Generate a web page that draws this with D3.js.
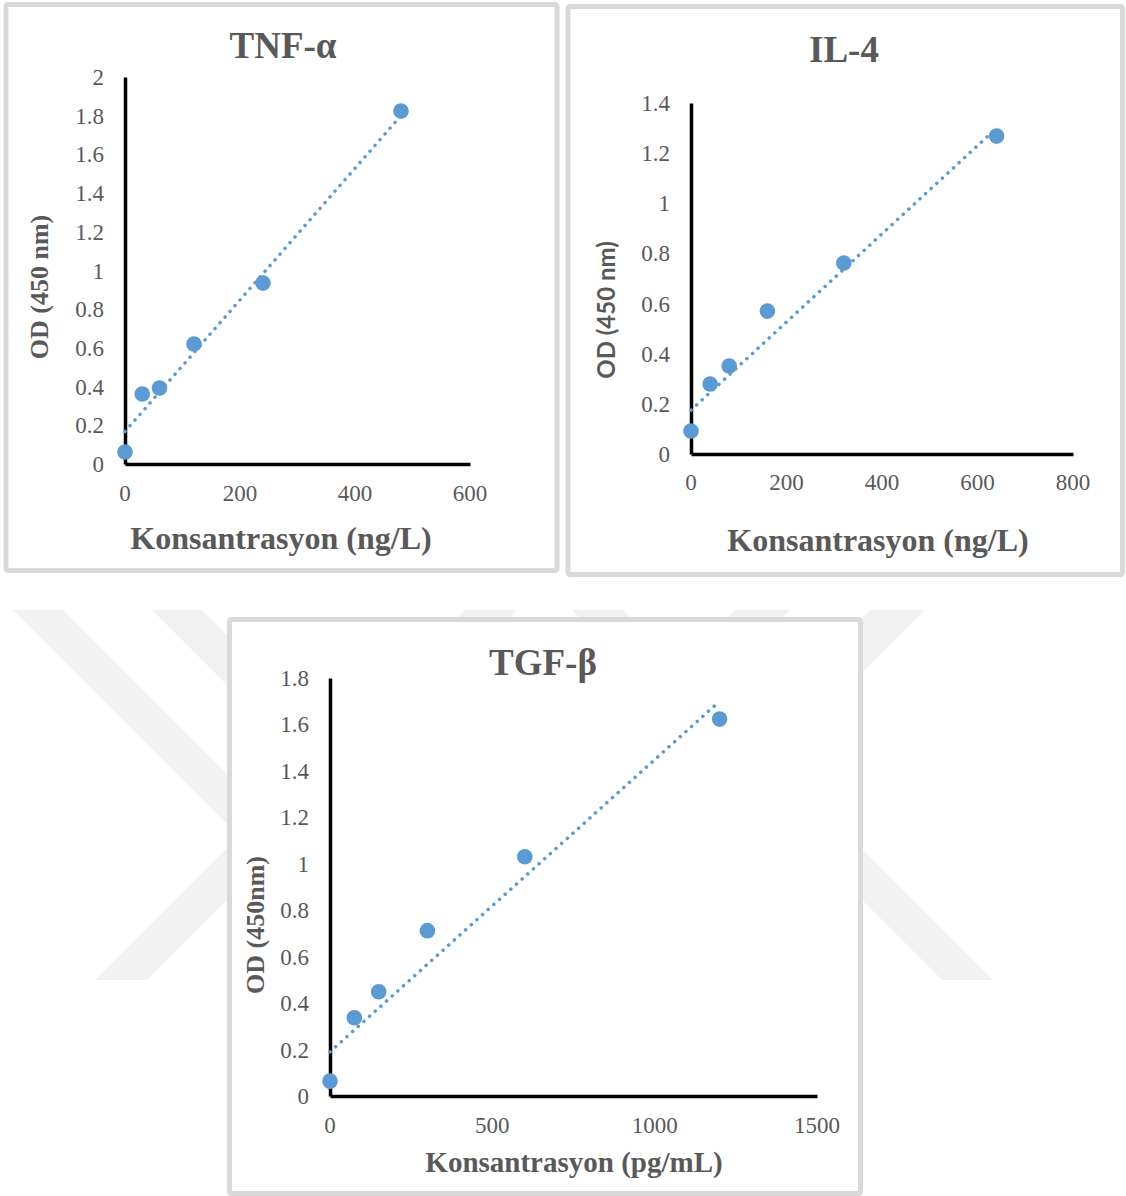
<!DOCTYPE html>
<html>
<head>
<meta charset="utf-8">
<script src="https://cdn.jsdelivr.net/npm/d3@7"></script>
<style>
  body { margin: 0; background: #fff; }
  svg { display: block; }
</style>
</head>
<body>
<svg id="chart" width="1126" height="1196"></svg>
<script>
// data
var tnfConc = [0, 30, 60, 120, 240, 480];
var tnfOD = [0.062, 0.362, 0.393, 0.62, 0.935, 1.824];
var tnfTrendX = [0, 480];
var tnfTrendY = [0.168, 1.80];
var tnfXTicks = [0, 200, 400, 600];
var tnfYTicks = [0, 0.2, 0.4, 0.6, 0.8, 1, 1.2, 1.4, 1.6, 1.8, 2];

var il4Conc = [0, 40, 80, 160, 320, 640];
var il4OD = [0.092, 0.279, 0.351, 0.570, 0.762, 1.268];
var il4TrendX = [0, 640];
var il4TrendY = [0.175, 1.30];
var il4XTicks = [0, 200, 400, 600, 800];
var il4YTicks = [0, 0.2, 0.4, 0.6, 0.8, 1, 1.2, 1.4];

var tgfConc = [0, 75, 150, 300, 600, 1200];
var tgfOD = [0.064, 0.337, 0.449, 0.712, 1.030, 1.623];
var tgfTrendX = [0, 1200];
var tgfTrendY = [0.19, 1.70];
var tgfXTicks = [0, 500, 1000, 1500];
var tgfYTicks = [0, 0.2, 0.4, 0.6, 0.8, 1, 1.2, 1.4, 1.6, 1.8];

var panelTitles = ["TNF-\u03b1", "IL-4", "TGF-\u03b2"];
var xTitles = ["Konsantrasyon (ng/L)", "Konsantrasyon (ng/L)", "Konsantrasyon (pg/mL)"];
var yTitles = ["OD (450 nm)", "OD (450 nm)", "OD (450nm)"];

var blue = "#5b9bd5";
var grey = "#595959";
var serif = "'Liberation Serif', 'Times New Roman', serif";

var svg = d3.select("#chart");

// faint watermark bands behind the lower chart
var wm = svg.append("g").attr("fill", "#f2f2f2");
var bands = [
    [[13, 610], [63, 610], [433, 980], [383, 980]],
    [[152, 610], [202, 610], [572, 980], [522, 980]],
    [[465, 610], [517, 610], [147, 980], [95, 980]],
    [[870, 610], [925, 610], [555, 980], [500, 980]],
    [[572, 610], [623, 610], [993, 980], [942, 980]],
    [[735, 610], [790, 610], [420, 980], [365, 980]]
];
wm.selectAll("polygon").data(bands).enter().append("polygon")
    .attr("points", function (d) { return d.map(function (p) { return p.join(","); }).join(" "); });

var panels = [
    { box: [6, 4.5, 551, 566], xr: [125, 470], yr: [464, 77], conc: tnfConc, od: tnfOD,
      tx: tnfTrendX, ty: tnfTrendY, xt: tnfXTicks, yt: tnfYTicks, xmax: 600, ymax: 2,
      titleXY: [283, 58], xtY: 501, ytX: 104, xTitleXY: [281, 549], xTitleSize: 32,
      yTitleXY: [48, 287], ySans: false },
    { box: [568, 6.5, 554.5, 568], xr: [691, 1073], yr: [454, 103], conc: il4Conc, od: il4OD,
      tx: il4TrendX, ty: il4TrendY, xt: il4XTicks, yt: il4YTicks, xmax: 800, ymax: 1.4,
      titleXY: [844, 62], xtY: 490, ytX: 670, xTitleXY: [878, 551], xTitleSize: 32,
      yTitleXY: [615, 310], ySans: true },
    { box: [229.5, 619.5, 631, 574], xr: [330, 817], yr: [1096, 678], conc: tgfConc, od: tgfOD,
      tx: tgfTrendX, ty: tgfTrendY, xt: tgfXTicks, yt: tgfYTicks, xmax: 1500, ymax: 1.8,
      titleXY: [543, 675], xtY: 1133, ytX: 309, xTitleXY: [574, 1172], xTitleSize: 29,
      yTitleXY: [264, 925], ySans: false }
];

panels.forEach(function (p, i) {
    var g = svg.append("g");

    g.append("rect")
        .attr("x", p.box[0]).attr("y", p.box[1])
        .attr("width", p.box[2]).attr("height", p.box[3])
        .attr("rx", 2)
        .attr("fill", "#fff")
        .attr("stroke", "#d9d9d9")
        .attr("stroke-width", 5);

    var x = d3.scaleLinear().domain([0, p.xmax]).range(p.xr);
    var y = d3.scaleLinear().domain([0, p.ymax]).range(p.yr);

    // axes: thick lines, no ticks
    var xAxis = g.append("g")
        .attr("transform", "translate(0," + p.yr[0] + ")")
        .call(d3.axisBottom(x).tickValues(p.xt).tickSize(0).tickPadding(0).tickFormat(""));
    xAxis.select(".domain").attr("stroke", "#000").attr("stroke-width", 3.5);
    var yAxis = g.append("g")
        .attr("transform", "translate(" + p.xr[0] + ",0)")
        .call(d3.axisLeft(y).tickValues(p.yt).tickSize(0).tickFormat(""));
    yAxis.select(".domain").attr("stroke", "#000").attr("stroke-width", 3.5);

    g.selectAll(".ytick").data(p.yt).enter().append("text")
        .attr("class", "ytick")
        .attr("x", p.ytX)
        .attr("y", function (d) { return y(d); })
        .attr("dy", "0.35em")
        .attr("text-anchor", "end")
        .attr("font-family", serif)
        .attr("font-size", 23)
        .attr("fill", grey)
        .text(function (d) { return d3.format("~g")(d); });

    g.selectAll(".xtick").data(p.xt).enter().append("text")
        .attr("class", "xtick")
        .attr("x", function (d) { return x(d); })
        .attr("y", p.xtY)
        .attr("text-anchor", "middle")
        .attr("font-family", serif)
        .attr("font-size", 23)
        .attr("fill", grey)
        .text(function (d) { return d; });

    // titles
    g.append("text")
        .attr("x", p.titleXY[0]).attr("y", p.titleXY[1])
        .attr("text-anchor", "middle")
        .attr("font-family", serif).attr("font-weight", "bold")
        .attr("font-size", 37).attr("fill", grey)
        .text(panelTitles[i]);

    g.append("text")
        .attr("x", p.xTitleXY[0]).attr("y", p.xTitleXY[1])
        .attr("text-anchor", "middle")
        .attr("font-family", serif).attr("font-weight", "bold")
        .attr("font-size", p.xTitleSize).attr("fill", grey)
        .text(xTitles[i]);

    g.append("text")
        .attr("transform", "translate(" + p.yTitleXY[0] + "," + p.yTitleXY[1] + ") rotate(-90)")
        .attr("text-anchor", "middle")
        .attr("font-family", p.ySans ? "Lato, 'Open Sans', sans-serif" : serif)
        .attr("font-weight", "bold")
        .attr("font-size", p.ySans ? 24 : 26).attr("fill", grey)
        .text(yTitles[i]);

    // dotted linear trend line
    var line = d3.line()
        .x(function (d) { return x(d[0]); })
        .y(function (d) { return y(d[1]); });
    g.append("path")
        .datum(d3.zip(p.tx, p.ty))
        .attr("d", line)
        .attr("fill", "none")
        .attr("stroke", blue)
        .attr("stroke-width", 3.5)
        .attr("stroke-linecap", "round")
        .attr("stroke-dasharray", "0.1 7.5");

    g.selectAll("circle").data(d3.zip(p.conc, p.od)).enter().append("circle")
        .attr("cx", function (d) { return x(d[0]); })
        .attr("cy", function (d) { return y(d[1]); })
        .attr("r", 7.8)
        .attr("fill", blue);
});
</script>
</body>
</html>
